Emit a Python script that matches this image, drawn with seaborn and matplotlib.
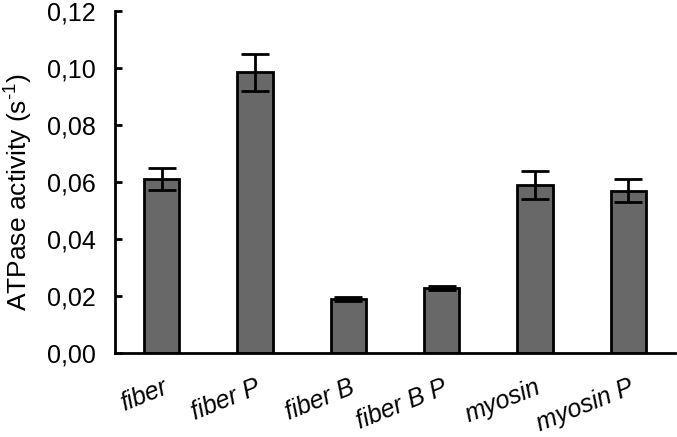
import matplotlib
matplotlib.use("Agg")
import matplotlib.pyplot as plt
import seaborn as sns
import pandas as pd
from matplotlib.ticker import FuncFormatter

categories = ["fiber", "fiber P", "fiber B", "fiber B P", "myosin", "myosin P"]
values = [0.061, 0.0985, 0.019, 0.023, 0.059, 0.057]
errors = [0.0038, 0.0065, 0.0007, 0.0007, 0.005, 0.004]
yticks = [0.00, 0.02, 0.04, 0.06, 0.08, 0.10, 0.12]

sns.set_theme(style="white")
plt.rcParams["font.family"] = ["Liberation Sans", "DejaVu Sans"]

df = pd.DataFrame({"cat": categories, "val": values})

fig = plt.figure(figsize=(6.77, 4.37), dpi=100)
ax = fig.add_axes([0.170, 0.192, 0.827, 0.783])

sns.barplot(data=df, x="cat", y="val", ax=ax, color="#686868", saturation=1,
            width=0.38, edgecolor="black", linewidth=2, errorbar=None)
ax.errorbar(range(len(categories)), values, yerr=errors, fmt="none",
            ecolor="black", elinewidth=2, capsize=10, capthick=2)

ax.set_xlim(-0.5, 5.5)
ax.set_ylim(0, 0.12)
ax.set_yticks(yticks)
ax.yaxis.set_major_formatter(FuncFormatter(lambda v, p: f"{v:.2f}".replace(".", ",")))
ax.tick_params(axis="y", direction="in", length=5, width=2, labelsize=18, pad=14, left=True, color="black", labelcolor="black")
ax.tick_params(axis="x", length=0, pad=16, labelsize=18, labelcolor="black")
for lab in ax.get_xticklabels():
    lab.set_rotation(22)
    lab.set_ha("right")
    lab.set_rotation_mode("anchor")
    lab.set_style("italic")

ax.set_xlabel("")
ax.set_ylabel("ATPase activity (s$^{\\mathregular{\u20101}}$)", fontsize=19, color="black")
ax.yaxis.set_label_coords(-0.145, 0.47)

for s in ["top", "right"]:
    ax.spines[s].set_visible(False)
for s in ["left", "bottom"]:
    ax.spines[s].set_color("black")
    ax.spines[s].set_linewidth(2)

fig.savefig("out.png", dpi=100)
